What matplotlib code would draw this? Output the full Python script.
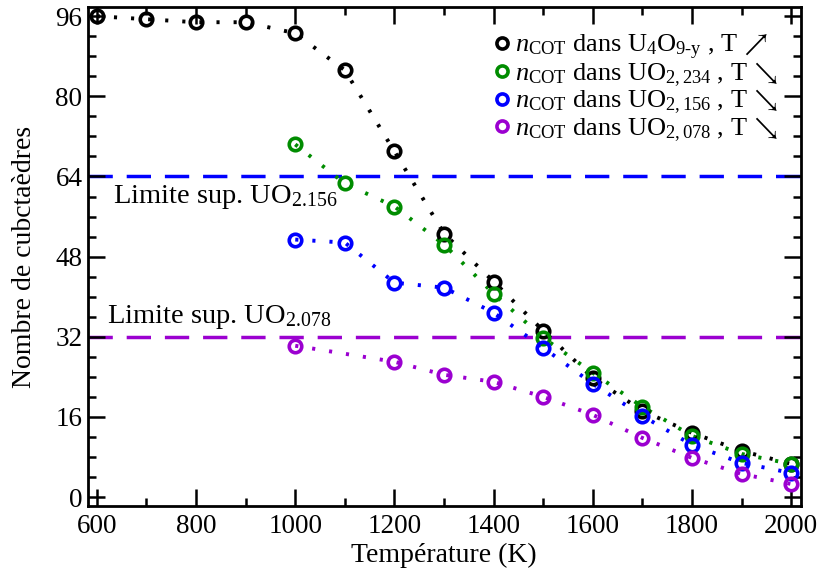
import matplotlib
matplotlib.use("Agg")
import matplotlib.pyplot as plt
from matplotlib.lines import Line2D
from matplotlib.ticker import MultipleLocator

plt.rcParams['font.family'] = ['Liberation Serif', 'DejaVu Sans']
plt.rcParams['mathtext.fontset'] = 'custom'
plt.rcParams['mathtext.rm'] = 'Liberation Serif'
plt.rcParams['mathtext.it'] = 'Liberation Serif:italic'
plt.rcParams['mathtext.fallback'] = 'stix'

# data
t_u4o9 = [600, 700, 800, 900, 1000, 1100, 1200, 1300, 1400, 1500, 1600, 1700, 1800, 1900, 2000]
n_u4o9 = [96, 95.4, 94.8, 94.8, 92.6, 85.2, 69, 52.6, 43, 33.2, 23.8, 17.2, 12.8, 9.2, 6.6]

t_234 = [1000, 1100, 1200, 1300, 1400, 1500, 1600, 1700, 1800, 1900, 2000]
n_234 = [70.4, 62.6, 58, 50.4, 40.6, 31.8, 24.8, 18, 12.2, 8.6, 6.6]

t_156 = [1000, 1100, 1200, 1300, 1400, 1500, 1600, 1700, 1800, 1900, 2000]
n_156 = [51.4, 50.8, 42.8, 41.8, 36.8, 29.8, 22.6, 16.2, 10.4, 6.8, 4.8]

t_078 = [1000, 1200, 1300, 1400, 1500, 1600, 1700, 1800, 1900, 2000]
n_078 = [30.2, 27, 24.4, 23, 20, 16.4, 11.8, 7.8, 4.6, 2.6]

lim_156 = 64
lim_078 = 32

series = [
    (t_u4o9, n_u4o9, "black", r"$n_{\mathrm{COT}}$ dans U$_4$O$_{9\text{-}\mathrm{y}}$ , T$\,\nearrow$"),
    (t_234, n_234, "#008c00", r"$n_{\mathrm{COT}}$ dans UO$_{2,234}$ , T$\,\searrow$"),
    (t_156, n_156, "#0000ff", r"$n_{\mathrm{COT}}$ dans UO$_{2,156}$ , T$\,\searrow$"),
    (t_078, n_078, "#9b00d0", r"$n_{\mathrm{COT}}$ dans UO$_{2,078}$ , T$\,\searrow$"),
]

fig = plt.figure(figsize=(8.22, 5.76), dpi=100)
ax = fig.add_axes([0.107, 0.1215, 0.867, 0.866])

ax.axhline(lim_156, color="#0000ff", lw=2.5, dashes=(7, 4), zorder=1)
ax.axhline(lim_078, color="#9b00d0", lw=2.5, dashes=(7, 4), zorder=1)

handles = []
for t, n, c, lab in series:
    ax.plot(t, n, color=c, lw=2.8, linestyle=(0, (0.8, 3.6)), zorder=2)
    ax.plot(t, n, color=c, linestyle="none", marker="o", ms=9, mfc="none",
            mec=c, mew=2.6, zorder=3)
    handles.append(Line2D([], [], color=c, linestyle="none", marker="o", ms=8,
                          mfc="none", mec=c, mew=2.6, label=lab))

ax.text(632, 58.8, r"Limite sup. UO$_{2.156}$", fontsize=20.5, va="baseline", ha="left")
ax.text(620, 34.8, r"Limite sup. UO$_{2.078}$", fontsize=20.5, va="baseline", ha="left")

ax.set_xlim(582, 2019)
ax.set_ylim(-1.8, 97.8)
ax.xaxis.set_major_locator(MultipleLocator(200))
ax.xaxis.set_minor_locator(MultipleLocator(100))
ax.yaxis.set_major_locator(MultipleLocator(16))
ax.yaxis.set_minor_locator(MultipleLocator(4))
ax.tick_params(which="both", direction="in", top=True, right=True, width=1.8, labelsize=19.5)
ax.tick_params(which="major", length=12)
ax.tick_params(which="minor", length=6)
ax.tick_params(axis="x", pad=6)
ax.tick_params(axis="y", pad=4)
for s in ax.spines.values():
    s.set_linewidth(2)

ax.set_xlabel("Température (K)", fontsize=20)
ax.set_ylabel("Nombre de cubctaèdres", fontsize=20)
ax.xaxis.set_label_coords(0.5, -0.074)
ax.yaxis.set_label_coords(-0.071, 0.5)

ax.legend(handles=handles, loc="upper right", frameon=False, fontsize=19,
          handlelength=0.5, handletextpad=0.25, labelspacing=-0.05,
          borderaxespad=0, borderpad=0, bbox_to_anchor=(0.968, 0.949))

fig.savefig("out.png", dpi=100)
